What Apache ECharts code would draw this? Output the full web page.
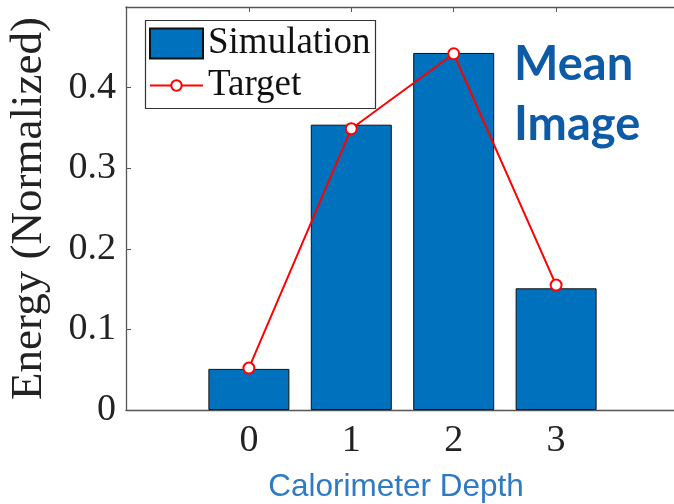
<!DOCTYPE html>
<html>
<head>
<meta charset="utf-8">
<script src="https://cdn.jsdelivr.net/npm/echarts@6/dist/echarts.min.js"></script>
<style>html,body{margin:0;padding:0;background:#fff}#c{width:674px;height:504px}</style>
</head>
<body>
<div id="c"></div>
<script>
var depths = [0, 1, 2, 3];
var simulation = [0.051, 0.354, 0.443, 0.151];
var target = [0.052, 0.349, 0.442, 0.155];
var yTicks = [0, 0.1, 0.2, 0.3, 0.4];

var serif = 'Liberation Serif';
var chart = echarts.init(document.getElementById('c'), null, {renderer: 'canvas'});
var axisColor = '#555';
chart.setOption({
  animation: false,
  grid: {left: 126, top: 7, width: 553, bottom: 94, containLabel: false, outerBoundsMode: 'none'},
  xAxis: [{
    type: 'value', min: -1.2, max: 4.2, position: 'bottom',
    axisLine: {show: true, onZero: false, lineStyle: {color: axisColor, width: 1.3}},
    axisTick: {show: true, inside: true, length: 5, customValues: depths, lineStyle: {color: axisColor}},
    axisLabel: {customValues: depths, margin: 12, color: '#222', fontFamily: serif, fontSize: 38},
    splitLine: {show: false}
  }, {
    type: 'value', min: -1.2, max: 4.2, position: 'top',
    axisLine: {show: true, onZero: false, lineStyle: {color: axisColor, width: 1.3}},
    axisTick: {show: true, inside: true, length: 5, customValues: depths, lineStyle: {color: axisColor}},
    axisLabel: {show: false},
    splitLine: {show: false}
  }],
  yAxis: [{
    type: 'value', min: 0, max: 0.5, position: 'left',
    name: 'Energy (Normalized)', nameLocation: 'middle', nameGap: 74, nameRotate: 90,
    nameTextStyle: {fontFamily: serif, fontSize: 45, color: '#222'},
    axisLine: {show: true, onZero: false, lineStyle: {color: axisColor, width: 1.3}},
    axisTick: {show: true, inside: true, length: 5, customValues: yTicks, lineStyle: {color: axisColor}},
    axisLabel: {customValues: yTicks, margin: 10, color: '#222', fontFamily: serif, fontSize: 38,
      formatter: function (v) { return v === 0 ? '0' : v.toFixed(1); }},
    splitLine: {show: false}
  }, {
    type: 'value', min: 0, max: 0.5, position: 'right',
    axisLine: {show: true, onZero: false, lineStyle: {color: axisColor, width: 1.3}},
    axisTick: {show: true, inside: true, length: 5, customValues: yTicks, lineStyle: {color: axisColor}},
    axisLabel: {show: false},
    splitLine: {show: false}
  }],
  legend: [{
    data: [{name: 'Simulation', icon: 'rect'}], left: 149, top: 25, padding: 0, orient: 'vertical',
    itemWidth: 53, itemHeight: 30,
    textStyle: {fontFamily: serif, fontSize: 37, color: '#111', lineHeight: 36}
  }, {
    data: ['Target'], left: 149, top: 67, padding: 0, orient: 'vertical',
    itemWidth: 53, itemHeight: 13,
    textStyle: {fontFamily: serif, fontSize: 37, color: '#111', lineHeight: 36}
  }],
  graphic: [
    {type: 'rect', z: 1, shape: {x: 145.5, y: 20.5, width: 230, height: 88},
     style: {fill: '#fff', stroke: '#333', lineWidth: 1.2}},
    {type: 'text', left: 514, top: 35, z: 10,
     style: {text: 'Mean\nImage', fontFamily: 'Lato', fontWeight: 'bold', fontSize: 47, lineHeight: 60, fill: '#0D5AA6'}},
    {type: 'text', x: 396, y: 487, z: 10,
     style: {text: 'Calorimeter Depth', fontFamily: 'Liberation Sans', fontSize: 31.5, fill: '#2F7AC2', align: 'center', verticalAlign: 'middle'}}
  ],
  series: [{
    name: 'Simulation', type: 'bar', xAxisIndex: 0, yAxisIndex: 0,
    barWidth: 81,
    itemStyle: {color: '#0072BD', borderColor: '#111', borderWidth: 1},
    data: depths.map(function (d, i) { return [d, simulation[i]]; })
  }, {
    name: 'Target', type: 'line', xAxisIndex: 0, yAxisIndex: 0,
    symbol: 'emptyCircle', symbolSize: 11, z: 5,
    lineStyle: {color: '#FF0000', width: 2},
    itemStyle: {color: '#FF0000', borderWidth: 2},
    data: depths.map(function (d, i) { return [d, target[i]]; })
  }]
});
</script>
</body>
</html>
